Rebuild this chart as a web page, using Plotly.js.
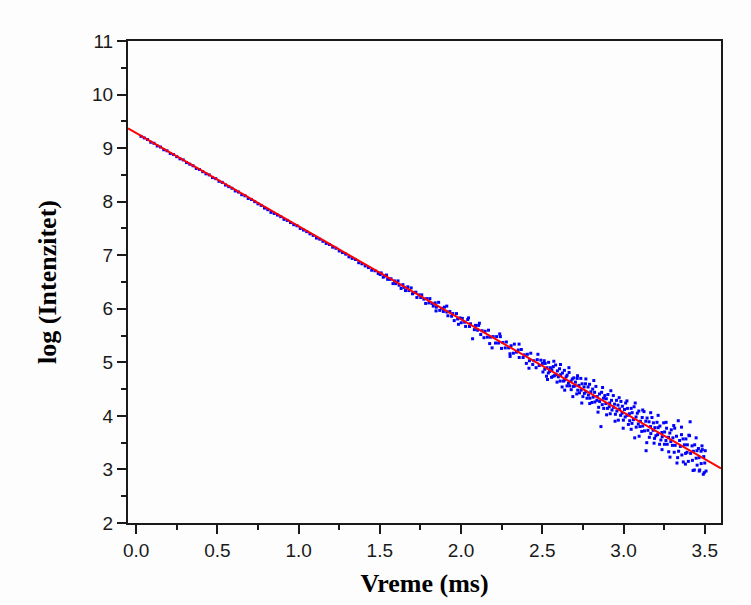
<!DOCTYPE html>
<html>
<head>
<meta charset="utf-8">
<script src="https://cdn.plot.ly/plotly-3.0.1.min.js"></script>
<style>html,body{margin:0;padding:0;background:#fdfdfd;}#chart{width:751px;height:605px;}</style>
</head>
<body>
<div id="chart"></div>
<script>
// Segment A: early times (tight band)
var timeA = [0.03,0.05,0.07,0.09,0.11,0.13,0.15,0.17,0.19,0.21,0.23,0.25,0.27,0.29,0.31,0.33,0.35,0.37,0.39,0.41,0.43,0.45,0.47,0.49,0.51,0.53,0.55,0.57,0.59,0.61,0.63,0.65,0.67,0.69,0.71,0.73,0.75,0.77,0.79,0.81,0.83,0.85,0.87,0.89,0.91,0.93,0.95,0.97,0.99,1.01,1.03,1.05,1.07,1.09,1.11,1.13,1.15,1.17,1.19,1.21,1.23,1.25,1.27,1.29,1.31,1.33,1.35,1.37,1.39,1.41,1.43,1.45,1.47,1.49];
var logA = [9.22,9.19,9.16,9.11,9.09,9.04,9.02,8.97,8.95,8.90,8.88,8.84,8.80,8.78,8.73,8.70,8.67,8.62,8.60,8.56,8.52,8.50,8.45,8.43,8.38,8.36,8.31,8.28,8.25,8.20,8.18,8.13,8.11,8.06,8.04,8.00,7.96,7.93,7.88,7.85,7.80,7.78,7.75,7.72,7.67,7.65,7.61,7.57,7.55,7.50,7.47,7.44,7.40,7.37,7.32,7.30,7.26,7.22,7.20,7.15,7.13,7.08,7.05,7.02,6.97,6.94,6.92,6.86,6.84,6.80,6.77,6.72,6.71,6.66];

// Segment B: middle times
var timeB = [1.502,1.508,1.521,1.529,1.541,1.548,1.562,1.569,1.581,1.591,
1.598,1.612,1.619,1.631,1.642,1.649,1.658,1.672,1.679,1.693,
1.701,1.708,1.722,1.728,1.741,1.752,1.758,1.771,1.782,1.789,
1.802,1.808,1.821,1.829,1.841,1.848,1.862,1.869,1.881,1.891,
1.898,1.912,1.919,1.931,1.942,1.949,1.958,1.972,1.979,1.993,
2.001,2.008,2.022,2.028,2.041,2.052,2.058,2.071,2.082,2.089,
2.102,2.108,2.121,2.129,2.141,2.148,2.162,2.169,2.181,2.191,
2.198,2.212,2.219,2.231,2.242,2.249,2.258,2.272,2.279,2.293,
2.301,2.308,2.322,2.328,2.341,2.352,2.358,2.371,2.382,2.389,
2.402,2.408,2.421,2.429,2.441,2.448,2.462,2.469,2.481,2.491];
var logB = [6.64,6.67,6.59,6.61,6.63,6.55,6.55,6.56,6.47,6.52,
6.47,6.52,6.44,6.38,6.45,6.40,6.34,6.41,6.34,6.39,
6.28,6.30,6.31,6.21,6.26,6.21,6.26,6.18,6.10,6.19,
6.11,6.19,6.10,6.05,6.11,6.03,6.12,5.97,6.01,5.95,
6.03,5.94,5.87,5.95,5.86,5.91,5.78,5.91,5.81,5.83,
5.74,5.82,5.75,5.67,5.80,5.67,5.72,5.44,5.61,5.69,
5.60,5.69,5.52,5.59,5.46,5.58,5.47,5.60,5.47,5.27,
5.48,5.36,5.48,5.36,5.48,5.26,5.37,5.27,5.38,5.27,
5.16,5.31,5.17,5.34,5.19,5.23,5.09,5.24,5.09,5.14,
4.98,5.15,5.03,5.17,4.96,5.03,4.90,5.05,4.94,5.04];

// Segment C: late times (wide scatter)
var timeC = [2.501,2.504,2.512,2.515,2.518,2.526,2.529,2.537,2.539,2.545,
2.550,2.557,2.559,2.566,2.568,2.575,2.582,2.584,2.591,2.593,
2.599,2.606,2.610,2.613,2.622,2.624,2.630,2.636,2.638,2.647,
2.652,2.653,2.661,2.665,2.669,2.677,2.678,2.685,2.691,2.694,
2.701,2.704,2.712,2.715,2.718,2.726,2.729,2.737,2.739,2.745,
2.750,2.757,2.759,2.766,2.768,2.775,2.782,2.784,2.791,2.793,
2.799,2.806,2.810,2.813,2.822,2.824,2.830,2.836,2.838,2.847,
2.852,2.853,2.861,2.865,2.869,2.877,2.878,2.885,2.891,2.894,
2.901,2.904,2.912,2.915,2.918,2.926,2.929,2.937,2.939,2.945,
2.950,2.957,2.959,2.966,2.968,2.975,2.982,2.984,2.991,2.993,
2.999,3.006,3.010,3.013,3.022,3.024,3.030,3.036,3.038,3.047,
3.052,3.053,3.061,3.065,3.069,3.077,3.078,3.085,3.091,3.094,
3.101,3.104,3.112,3.115,3.118,3.126,3.129,3.137,3.139,3.145,
3.150,3.157,3.159,3.166,3.168,3.175,3.182,3.184,3.191,3.193,
3.199,3.206,3.210,3.213,3.222,3.224,3.230,3.236,3.238,3.247,
3.252,3.253,3.261,3.265,3.269,3.277,3.278,3.285,3.291,3.294,
3.301,3.304,3.312,3.315,3.318,3.326,3.329,3.337,3.339,3.345,
3.350,3.357,3.359,3.366,3.368,3.375,3.382,3.384,3.391,3.393,
3.399,3.406,3.410,3.413,3.422,3.424,3.430,3.436,3.438,3.447,
3.452,3.453,3.461,3.465,3.469,3.477,3.478,3.485,3.491,3.494,
3.500,3.503,3.508];
var logC = [4.98,4.82,5.03,4.87,4.98,4.74,4.90,4.80,5.00,4.83,
4.90,4.72,4.86,4.74,4.92,4.75,4.95,4.77,4.63,4.84,
4.73,4.88,4.65,4.77,4.54,4.80,4.65,4.85,4.67,4.73,
4.56,4.76,4.61,4.81,4.56,4.65,4.49,4.69,4.55,4.71,
4.56,4.63,4.41,4.70,4.48,4.57,4.43,4.70,4.48,4.60,
4.36,4.54,4.42,4.60,4.45,4.33,4.54,4.39,4.59,4.33,
4.45,4.25,4.50,4.35,4.44,4.26,4.55,4.29,4.36,4.16,
4.41,4.27,3.80,4.44,4.21,4.33,4.14,4.38,4.23,4.32,
4.14,4.40,4.17,4.24,4.04,4.29,4.11,4.38,4.16,4.22,
4.03,4.29,4.09,4.20,3.92,4.13,4.01,4.27,4.05,4.18,
3.92,4.12,3.98,4.24,4.01,4.14,3.84,4.04,3.91,4.14,
3.86,4.06,3.93,4.17,3.59,3.98,3.79,4.05,3.85,4.09,
3.80,3.90,3.71,3.97,3.81,4.08,3.72,3.90,3.35,3.96,
3.73,3.89,3.60,3.80,3.67,3.97,3.73,3.87,3.58,3.78,
3.63,3.88,3.65,3.78,3.47,3.81,3.55,3.69,3.61,3.87,
3.47,3.70,3.54,3.77,3.47,3.60,3.33,3.68,3.52,3.74,
3.45,3.59,3.32,3.77,3.45,3.62,3.12,3.91,3.34,3.54,
3.43,3.65,3.27,3.57,3.14,3.46,3.30,3.57,3.32,3.46,
3.15,3.63,3.89,3.30,3.44,3.17,3.34,2.99,3.46,3.21,
3.35,3.08,3.39,3.22,2.99,3.34,3.11,3.37,2.91,3.24,
3.12,3.35,2.97];

// Segment D: extra scattered points (outer edge of the cloud)
var timeD = [1.846,1.912,1.984,2.046,2.113,2.176,2.238,2.302,2.357,2.418,2.473,2.532,2.571,
2.612,2.638,2.664,2.688,2.717,2.743,2.768,2.792,2.817,2.843,2.871,2.896,2.922,2.948,2.973,2.998,
3.021,3.047,3.072,3.096,3.118,3.143,3.167,3.188,3.213,3.237,3.262,3.286,3.309,3.333,3.357,3.381,
3.402,3.428,3.447,3.466,3.483,3.497];
var logD = [5.96,6.05,5.71,5.83,5.73,5.35,5.53,5.11,5.34,4.89,5.15,4.68,5.02,
4.96,4.48,4.90,4.36,4.75,4.24,4.69,4.23,4.66,4.07,4.53,4.02,4.47,3.90,4.34,3.77,
4.28,3.75,4.24,3.62,4.11,3.50,4.06,3.49,4.01,3.37,3.88,3.23,3.82,3.22,3.79,3.10,
3.64,2.98,3.59,2.97,3.44,2.94];

// Linear fit line end points
var fitTime = [-0.05, 3.6];
var fitLog = [9.37, 3.02];

var xTickVals = [0, 0.5, 1.0, 1.5, 2.0, 2.5, 3.0, 3.5];
var xTickText = ["0.0","0.5","1.0","1.5","2.0","2.5","3.0","3.5"];
var yTickVals = [2,3,4,5,6,7,8,9,10,11];

var timeAll = timeA.concat(timeB, timeC, timeD);
var logAll = logA.concat(logB, logC, logD);

var traces = [
  {x: timeAll, y: logAll, type: 'scatter', mode: 'markers',
   marker: {color: '#0000ff', size: 3, symbol: 'square', line: {width: 0}},
   hoverinfo: 'skip', showlegend: false},
  {x: fitTime, y: fitLog, type: 'scatter', mode: 'lines',
   line: {color: '#ff0000', width: 2}, hoverinfo: 'skip', showlegend: false}
];

var tickFont = {family: 'Liberation Sans, Arial, sans-serif', size: 19, color: '#1a1a1a'};
var titleFont = {family: 'Liberation Serif, Times New Roman, serif', size: 26, color: '#000', weight: 'bold'};

var layout = {
  width: 751, height: 605,
  paper_bgcolor: '#fdfdfd', plot_bgcolor: '#fdfdfd',
  margin: {l: 128, r: 30, t: 41, b: 82},
  showlegend: false,
  xaxis: {
    range: [-0.05, 3.6],
    tickvals: xTickVals, ticktext: xTickText,
    ticks: 'outside', ticklen: 9, tickwidth: 2, tickcolor: '#1a1a1a',
    minor: {dtick: 0.25, tick0: 0, ticks: 'outside', ticklen: 5, tickwidth: 2, tickcolor: '#1a1a1a', showgrid: false},
    showline: true, linewidth: 2, linecolor: '#1a1a1a', mirror: true,
    showgrid: false, zeroline: false,
    tickfont: tickFont,
    title: {text: 'Vreme (ms)', font: titleFont, standoff: 14}
  },
  yaxis: {
    range: [2, 11],
    tickvals: yTickVals,
    ticks: 'outside', ticklen: 9, tickwidth: 2, tickcolor: '#1a1a1a',
    minor: {dtick: 0.5, tick0: 0, ticks: 'outside', ticklen: 5, tickwidth: 2, tickcolor: '#1a1a1a', showgrid: false},
    showline: true, linewidth: 2, linecolor: '#1a1a1a', mirror: true,
    showgrid: false, zeroline: false,
    tickfont: tickFont,
    title: {text: 'log (Intenzitet)', font: titleFont, standoff: 28}
  }
};

Plotly.newPlot('chart', traces, layout, {displayModeBar: false, staticPlot: true});
</script>
</body>
</html>
